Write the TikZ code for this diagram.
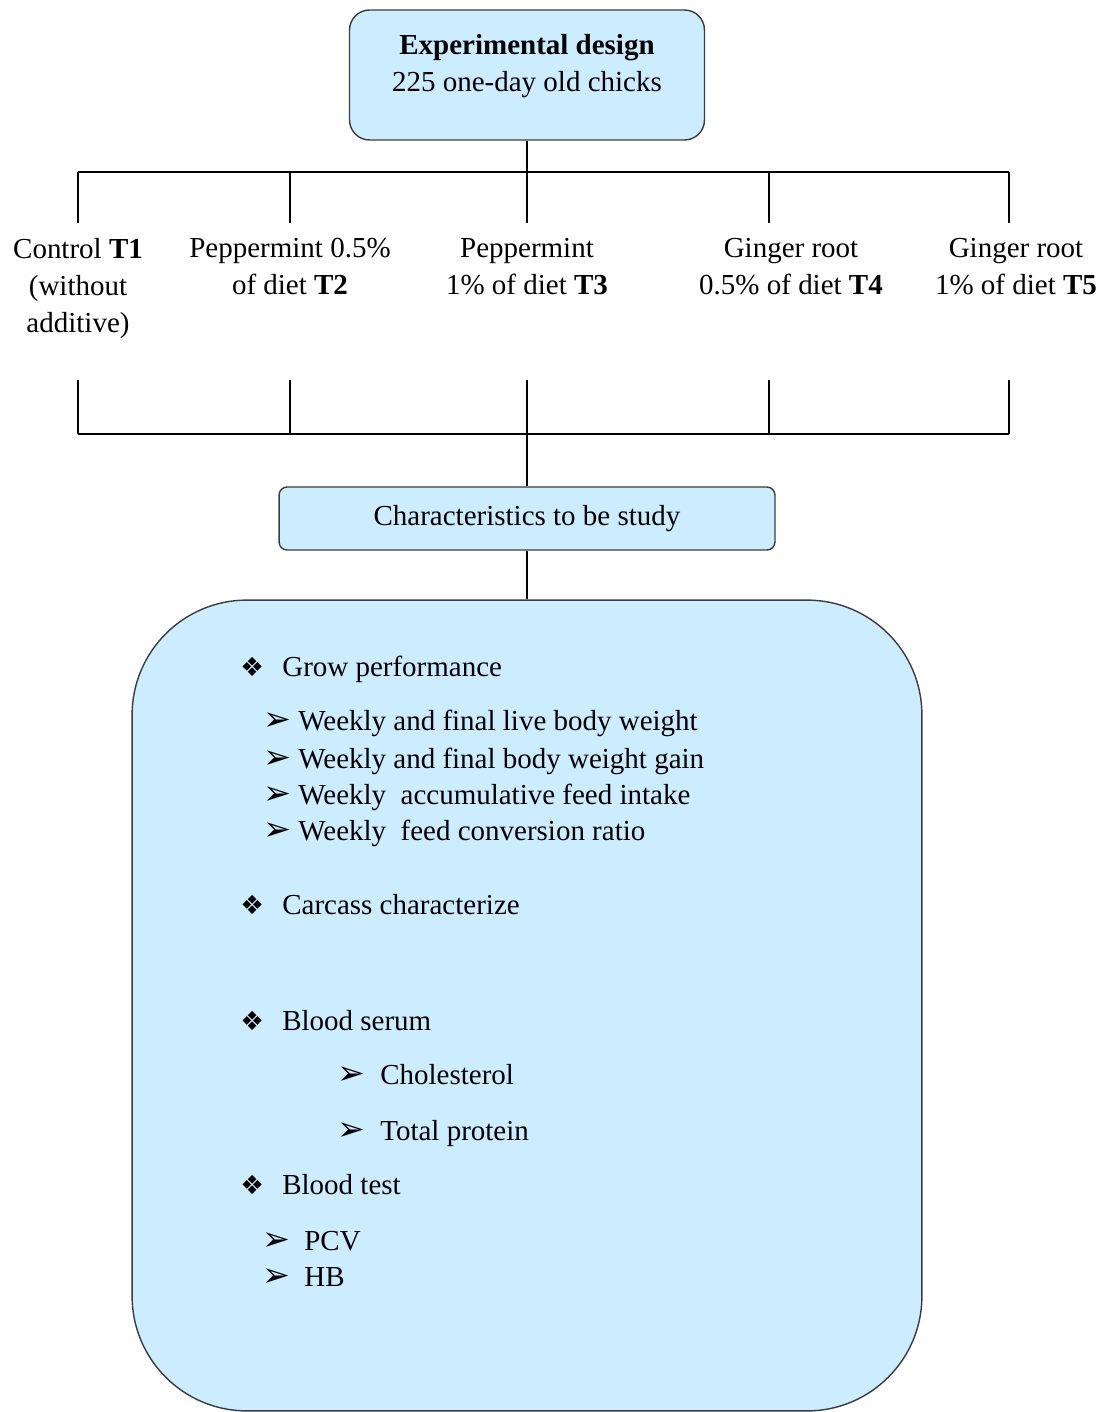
\documentclass[tikz,border=0pt]{standalone}
\usepackage{fontspec}
\setmainfont{Liberation Serif}
\newfontfamily\dingfont{DejaVu Sans}
\usetikzlibrary{positioning}

\definecolor{boxblue}{RGB}{204,236,255}
\definecolor{edgegray}{RGB}{60,60,60}

\newcommand{\fsz}{\fontsize{16.5}{21}\selectfont}
\newcommand{\keypt}{\makebox[0.84cm][l]{\dingfont\fontsize{15}{15}\selectfont ❖}}
\newcommand{\subpt}[1]{\makebox[#1][l]{\dingfont\fontsize{19}{19}\selectfont ➢}}

\begin{document}
\begin{tikzpicture}[
    x=0.02cm, y=-0.02cm,
    box/.style={
        draw=edgegray,
        fill=boxblue,
        line width=0.8pt,
        font=\fsz,
        align=center
    },
    treat/.style={anchor=north, inner sep=0pt, align=center, font=\fsz},
    item/.style={anchor=base west, inner sep=0pt, font=\fsz},
    link/.style={draw=black, line width=1.3pt}
]
\useasboundingbox (0,0) rectangle (1110,1412);

% Experimental design box
\node[box, rounded corners=0.4cm, minimum width=7.1cm, minimum height=2.6cm, text depth=0.48cm] (design) at (527,75) {
    \textbf{Experimental design}\\
    225 one-day old chicks
};

% Treatments
\node[treat] (t1) at (78,238) {Control \textbf{T1}\\(without\\additive)};
\node[treat] (t2) at (290,238) {Peppermint 0.5\%\\of diet \textbf{T2}};
\node[treat] (t3) at (527,238) {Peppermint\\1\% of diet \textbf{T3}};
\node[treat] (t4) at (791,238) {Ginger root\\0.5\% of diet \textbf{T4}};
\node[treat] (t5) at (1016,238) {Ginger root\\1\% of diet \textbf{T5}};

% Characteristics box
\node[box, rounded corners=0.16cm, minimum width=9.92cm, minimum height=1.26cm] (study) at (527,518.5) {Characteristics to be study};

% Traits box
\node[box, rounded corners=2.3cm, minimum width=15.8cm, minimum height=16.22cm] (traits) at (527,1005.5) {};

% Bus coordinates
\coordinate (upbus) at (78,172);
\coordinate (lowbus) at (527,434);
\coordinate (up1) at (78,223);
\coordinate (up2) at (290,223);
\coordinate (up3) at (527,223);
\coordinate (up4) at (769,223);
\coordinate (up5) at (1009,223);
\coordinate (low1) at (78,380);
\coordinate (low2) at (290,380);
\coordinate (low3) at (527,380);
\coordinate (low4) at (769,380);
\coordinate (low5) at (1009,380);

% Connectors
\draw[link] (design.south) -- (design.south |- upbus);
\draw[link] (up1 |- upbus) -- (up5 |- upbus);
\foreach \i in {1,...,5} {
    \draw[link] (up\i |- upbus) -- (up\i);
    \draw[link] (low\i) -- (low\i |- lowbus);
}
\draw[link] (low1 |- lowbus) -- (low5 |- lowbus);
\draw[link] (lowbus) -- (study.north);
\draw[link] (study.south) -- (traits.north);

% Items
\node[item] (grow) at (240,676) {\keypt Grow performance};
\node[item] (grow1) at (263,730) {\subpt{0.7cm}Weekly and final live body weight};
\node[item] (grow2) at (263,768) {\subpt{0.7cm}Weekly and final body weight gain};
\node[item] (grow3) at (263,804) {\subpt{0.7cm}Weekly \ accumulative feed intake};
\node[item] (grow4) at (263,840) {\subpt{0.7cm}Weekly \ feed conversion ratio};
\node[item] (carcass) at (240,914) {\keypt Carcass characterize};
\node[item] (serum) at (240,1030) {\keypt Blood serum};
\node[item] (serum1) at (337,1084) {\subpt{0.86cm}Cholesterol};
\node[item] (serum2) at (337,1140) {\subpt{0.86cm}Total protein};
\node[item] (blood) at (240,1194) {\keypt Blood test};
\node[item] (blood1) at (262,1250) {\subpt{0.84cm}PCV};
\node[item] (blood2) at (262,1286) {\subpt{0.84cm}HB};

\end{tikzpicture}
\end{document}
